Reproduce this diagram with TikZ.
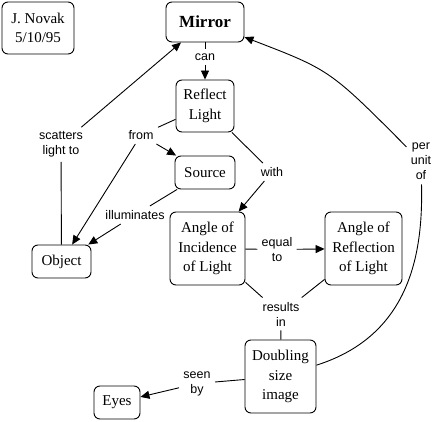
\documentclass[tikz,border=0pt]{standalone}
\usepackage{fontspec}
\setmainfont{Liberation Serif}
\newfontfamily\lblfont{Liberation Sans}
\usetikzlibrary{arrows.meta}
\tikzset{
  concept/.style={draw, rounded corners=6pt, align=center, inner sep=1pt,
    font=\fontsize{15}{19.5}\selectfont},
  link/.style={align=center, inner sep=4pt, font=\lblfont\fontsize{12.5}{15}\selectfont}
}
\begin{document}
\begin{tikzpicture}[x=1pt, y=-1pt, line width=0.9pt, >={Triangle[length=9pt,width=8pt]}]
\useasboundingbox (0,0) rectangle (439,422);
% concepts
\node[concept, minimum width=72pt, minimum height=52pt] (novak) at (38,28) {J. Novak\\5/10/95};
\node[concept, minimum width=78pt, minimum height=40pt, font=\fontsize{17}{20}\selectfont\bfseries] (mirror) at (205,22) {Mirror};
\node[concept, minimum width=58pt, minimum height=52pt] (reflect) at (205,106) {Reflect\\Light};
\node[concept, minimum width=60pt, minimum height=33pt] (source) at (205,172.5) {Source};
\node[concept, minimum width=75pt, minimum height=73pt] (incid) at (207.5,248.5) {Angle of\\Incidence\\of Light};
\node[concept, minimum width=77pt, minimum height=73pt] (reflec) at (363.5,248.5) {Angle of\\Reflection\\of Light};
\node[concept, minimum width=59pt, minimum height=33pt] (object) at (61.5,261.5) {Object};
\node[concept, minimum width=71pt, minimum height=73pt] (double) at (280.5,376.5) {Doubling\\size\\image};
\node[concept, minimum width=46pt, minimum height=33pt] (eyes) at (117,402.5) {Eyes};
% linking words
\node[link] (can) at (205,57) {can};
\node[link] (scatter) at (61,144.5) {scatters\\light to};
\node[link] (from) at (141,135) {from};
\node[link] (illum) at (135,215) {illuminates};
\node[link] (with) at (272,172) {with};
\node[link] (equal) at (277,249.5) {equal\\to};
\node[link] (result) at (281,314) {results\\in};
\node[link] (seen) at (197,383.5) {seen\\by};
\node[link] (per) at (421,161.5) {per\\unit\\of};
% connectors
\draw (mirror) -- (can);
\draw[->] (can) -- (reflect);
\draw (object) -- (scatter);
\draw[->] (scatter) -- (mirror);
\draw (reflect) -- (from);
\draw[->] (from) -- (object);
\draw[->] (from) -- (source);
\draw (source) -- (illum);
\draw[->] (illum) -- (object);
\draw (reflect) -- (with);
\draw[->] (with) -- (incid);
\draw (incid) -- (equal);
\draw[->] (equal) -- (reflec);
\draw (incid) -- (result);
\draw (reflec) -- (result);
\draw (result) -- (double);
\draw (double) -- (seen);
\draw[->] (seen) -- (eyes);
\draw (double) .. controls (412,335) and (423,250) .. (per);
\draw[->] (per) .. controls (330,70) .. (mirror);
\end{tikzpicture}
\end{document}
